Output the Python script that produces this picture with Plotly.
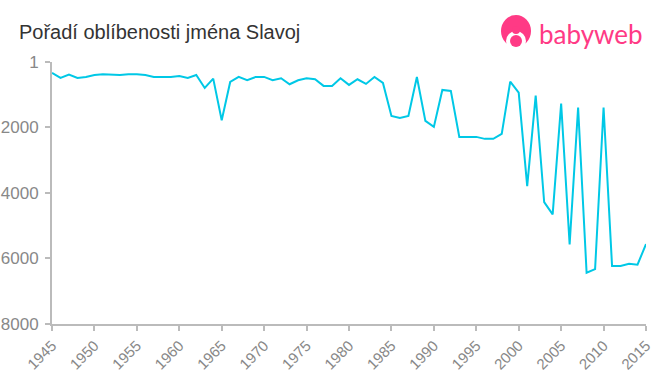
import plotly.graph_objects as go

years = list(range(1945, 2016))
ranks = [335, 488, 385, 488, 457, 396, 375, 396, 396, 375,
         375, 400, 457, 457, 457, 427, 488, 396, 793, 508,
         1780, 610, 457, 558, 457, 457, 558, 497, 680, 558,
         497, 528, 731, 731, 497, 700, 528, 670, 457, 640,
         1647, 1708, 1647, 457, 1800, 1982, 853, 884, 2287, 2287,
         2287, 2348, 2348, 2196, 599, 934, 3790, 1025, 4280, 4654,
         1270, 5570, 1390, 6435, 6323, 1390, 6231, 6231, 6160, 6190,
         5560]

y_ticks = [1, 2000, 4000, 6000, 8000]
x_ticks = list(range(1945, 2016, 5))
title = "Pořadí oblíbenosti jména Slavoj"
brand = "babyweb"

W, H = 660, 375
# plot area in page pixels: x 52..646, y 62..324
L, T = 52, 62
R, B = 660 - 646, 375 - 324
pw, ph = W - L - R, H - T - B


def px(x):
    return (x - L) / pw


def py(y):
    return (H - B - y) / ph


fig = go.Figure()
fig.add_trace(go.Scatter(x=years, y=ranks, mode="lines",
                         line=dict(color="#00c8e6", width=2),
                         hoverinfo="x+y"))

pink = "#ff3a85"
shapes = [
    dict(type="circle", xref="paper", yref="paper",
         x0=px(501), x1=px(531), y0=py(47), y1=py(15),
         fillcolor=pink, line=dict(width=0)),
    dict(type="circle", xref="paper", yref="paper",
         x0=px(506), x1=px(526), y0=py(51), y1=py(31),
         fillcolor="white", line=dict(width=0)),
    dict(type="circle", xref="paper", yref="paper",
         x0=px(510), x1=px(522), y0=py(47), y1=py(35),
         fillcolor=pink, line=dict(width=0)),
    dict(type="circle", xref="paper", yref="paper",
         x0=px(512), x1=px(520), y0=py(34), y1=py(26),
         fillcolor=pink, line=dict(width=0)),
]

fig.update_layout(
    width=W, height=H,
    margin=dict(l=L, r=R, t=T, b=B),
    paper_bgcolor="white", plot_bgcolor="white",
    showlegend=False,
    font=dict(family="Liberation Sans, Arial, sans-serif"),
    shapes=shapes,
    annotations=[
        dict(text=title, xref="paper", yref="paper",
             x=px(17), y=py(32), xanchor="left", yanchor="middle",
             showarrow=False, font=dict(size=20, color="#333333")),
        dict(text=brand, xref="paper", yref="paper",
             x=px(537), y=py(34), xanchor="left", yanchor="middle",
             showarrow=False,
             font=dict(size=26, color=pink, family="Lato, sans-serif")),
    ],
    xaxis=dict(range=[1945, 2015], tickvals=x_ticks,
               ticktext=[str(v) for v in x_ticks], tickangle=-45,
               automargin=False,
               showgrid=False, zeroline=False, showline=True,
               linecolor="#bbbbbb", linewidth=2, ticks="outside",
               ticklen=5, tickcolor="#bbbbbb", tickwidth=2,
               tickfont=dict(size=15, color="#888888")),
    yaxis=dict(range=[8000, 1], tickvals=y_ticks,
               ticktext=[str(v) for v in y_ticks],
               automargin=False, ticklabelstandoff=3,
               showgrid=False, zeroline=False, showline=True,
               linecolor="#bbbbbb", linewidth=2, ticks="outside",
               ticklen=5, tickcolor="#bbbbbb", tickwidth=2,
               tickfont=dict(size=17, color="#888888")),
)

fig.write_html("out.html",
               config={"displayModeBar": False},
               post_script="document.body.style.margin='0';")
